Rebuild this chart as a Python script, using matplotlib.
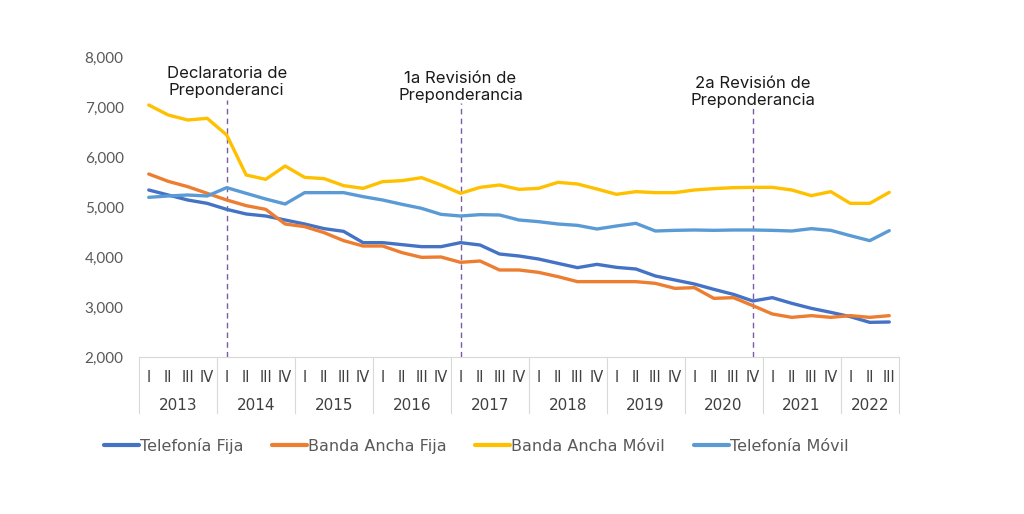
import matplotlib.pyplot as plt
import matplotlib.transforms as mtransforms
from matplotlib import font_manager

years = ['2013', '2014', '2015', '2016', '2017', '2018', '2019', '2020', '2021', '2022']
quarters_per_year = [4, 4, 4, 4, 4, 4, 4, 4, 4, 3]
quarter_names = ['I', 'II', 'III', 'IV']

telefonia_fija = [5340, 5240, 5140, 5073, 4953, 4860, 4820, 4740, 4660, 4567,
                  4513, 4287, 4287, 4247, 4207, 4207, 4287, 4240, 4060, 4020,
                  3960, 3873, 3787, 3853, 3793, 3760, 3620, 3540, 3460, 3353,
                  3253, 3120, 3187, 3073, 2973, 2893, 2807, 2693, 2700]
banda_ancha_fija = [5660, 5513, 5407, 5273, 5140, 5027, 4953, 4660, 4607, 4487,
                    4327, 4220, 4220, 4087, 3993, 4000, 3893, 3920, 3740, 3740,
                    3693, 3607, 3507, 3507, 3507, 3507, 3473, 3373, 3387, 3173,
                    3187, 3027, 2860, 2793, 2827, 2793, 2827, 2793, 2827]
banda_ancha_movil = [7040, 6840, 6740, 6773, 6440, 5640, 5553, 5820, 5593, 5567,
                     5427, 5373, 5507, 5527, 5587, 5440, 5273, 5393, 5440, 5353,
                     5373, 5493, 5460, 5360, 5253, 5307, 5287, 5287, 5340, 5367,
                     5387, 5393, 5393, 5340, 5227, 5307, 5073, 5073, 5293]
telefonia_movil = [5193, 5220, 5240, 5220, 5387, 5273, 5160, 5060, 5287, 5287,
                   5287, 5207, 5140, 5053, 4973, 4853, 4820, 4847, 4840, 4740,
                   4707, 4660, 4633, 4560, 4620, 4673, 4520, 4533, 4540, 4533,
                   4540, 4540, 4533, 4520, 4567, 4533, 4427, 4327, 4527]

events = [4, 16, 31]
event_tops = [7140, 7080, 6980]
event_labels = ['Declaratoria de\nPreponderanci', '1a Revisión de\nPreponderancia',
                '2a Revisión de\nPreponderancia']
event_text_y = [7500, 7400, 7300]

names = {f.name for f in font_manager.fontManager.ttflist}
narrow = 'Liberation Sans Narrow' if 'Liberation Sans Narrow' in names else 'DejaVu Sans'

quarter_labels = []
for n in quarters_per_year:
    quarter_labels += quarter_names[:n]
x = list(range(len(quarter_labels)))

fig = plt.figure(figsize=(10.24, 5.14), dpi=100)
ax = fig.add_axes([139 / 1024, 1 - 357 / 514, 760 / 1024, 300 / 514])

series = [
    (telefonia_fija, '#4472C4', 'Telefonía Fija'),
    (banda_ancha_fija, '#ED7D31', 'Banda Ancha Fija'),
    (banda_ancha_movil, '#FFC000', 'Banda Ancha Móvil'),
    (telefonia_movil, '#5B9BD5', 'Telefonía Móvil'),
]
for vals, col, lab in series:
    ax.plot(x, vals, color=col, lw=2.4, label=lab, solid_capstyle='round', zorder=3)

ax.set_xlim(-0.5, len(x) - 0.5)
ax.set_ylim(2000, 8000)
ax.set_yticks(range(2000, 8001, 1000))
ax.set_yticklabels([f'{v:,}' for v in range(2000, 8001, 1000)],
                   fontsize=11, color='#595959', family='Lato')
ax.tick_params(axis='y', length=0, pad=11)

for s in ['top', 'right', 'left']:
    ax.spines[s].set_visible(False)
ax.spines['bottom'].set_color('#D9D9D9')

ax.set_xticks(x)
ax.set_xticklabels(quarter_labels, fontsize=10.5, color='#404040', family=narrow)
ax.tick_params(axis='x', length=0, pad=9)

trans = mtransforms.blended_transform_factory(ax.transData, ax.transAxes)
bounds = [-0.5]
for n in quarters_per_year:
    bounds.append(bounds[-1] + n)
for b in bounds:
    ax.plot([b, b], [0, -0.187], transform=trans, color='#D9D9D9', lw=0.8, clip_on=False)
for i, yr in enumerate(years):
    mid = (bounds[i] + bounds[i + 1]) / 2
    ax.text(mid, -0.16, yr, transform=trans, ha='center', va='center',
            fontsize=11, color='#404040', family=narrow)

for ev, top, lab, ty in zip(events, event_tops, event_labels, event_text_y):
    ax.plot([ev, ev], [2000, top], color='#7B5BA6', lw=1, ls=(0, (4, 3)), zorder=2)
    ax.text(ev, ty, lab, ha='center', va='center', fontsize=12, family='Inter',
            color='#1A1A1A', linespacing=1.2)

leg = fig.legend(loc='center', bbox_to_anchor=(476 / 1024, 1 - 446 / 514), ncol=4, frameon=False,
                 prop={'family': narrow, 'size': 11.5}, handlelength=2.2,
                 handletextpad=0.05, columnspacing=1.8)
for t in leg.get_texts():
    t.set_color('#595959')
for h in leg.legend_handles:
    h.set_linewidth(3)

fig.savefig('out.png', dpi=100, facecolor='white')
